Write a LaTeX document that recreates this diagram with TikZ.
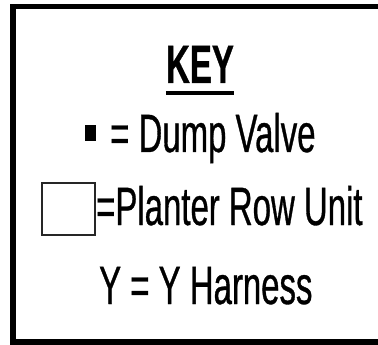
\documentclass[tikz,border=0pt]{standalone}
\usepackage{fontspec}
\newfontfamily\keyfont[FakeStretch=0.61, FakeBold=0.6]{Liberation Sans}
\usepackage{tikz}
\usetikzlibrary{positioning}
\tikzstyle{keytext} = [inner sep=0pt, anchor=base west, font=\keyfont\fontsize{54}{60}\selectfont]
\tikzstyle{symbox} = [rectangle, draw, inner sep=0pt]
\tikzstyle{frame} = [draw, line width=5.5pt]

\begin{document}
\begin{tikzpicture}[x=1pt, y=-1pt]
    \useasboundingbox (0,0) rectangle (378,345);
    \clip (0,0) rectangle (378,345);
    % frame
    \draw[frame] (13,6.5) rectangle (400,342);

    % title
    \node[keytext, anchor=base, font=\keyfont\bfseries\fontsize{54}{60}\selectfont] at (200,83) (key) {KEY};
    \draw[line width=4pt] ([yshift=-10pt]key.base west) -- ([yshift=-10pt]key.base east);

    % dump valve
    \node[symbox, fill=black, minimum width=10pt, minimum height=15pt] at (90,132.5) (dv) {};
    \node[keytext] at (110,152) (dvtext) {= Dump Valve};

    % planter row unit
    \node[symbox, line width=1.4pt, draw=black!85, minimum width=53pt, minimum height=52pt] at (68.5,209) (ru) {};
    \node[keytext] at (96,225) (rutext) {=Planter Row Unit};

    % y harness
    \node[keytext] at (99,304) (yh) {Y = Y Harness};
\end{tikzpicture}
\end{document}
